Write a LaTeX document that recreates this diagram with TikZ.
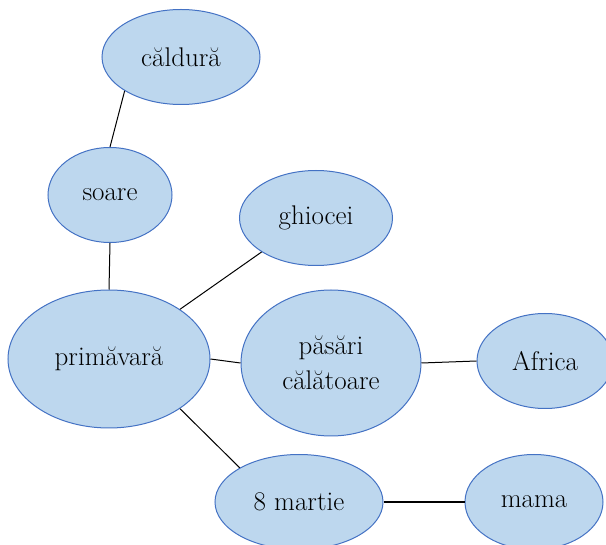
\documentclass[tikz,border=0pt]{standalone}
\usetikzlibrary{positioning, shapes}

\begin{document}
\begin{tikzpicture}[
        x=1pt, y=-1pt,
        every node/.style={
            ellipse, draw=bubbleedge, fill=bubblefill,
            line width=1pt, inner sep=0pt, align=center,
            font=\fontsize{27}{35}\selectfont % large serif labels
        },
        small/.style={minimum width=#1, minimum height=95pt},
        link/.style={draw=black, line width=1pt}
      ]
        \definecolor{bubblefill}{HTML}{BDD7EE}
        \definecolor{bubbleedge}{HTML}{4472C4}
        \clip (0,0) rectangle (606,545);

        \node[small=158pt] (caldura) at (181,57) {căldură};
        \node[small=124pt] (soare) at (110,195) {soare};
        \node[small=153pt] (ghiocei) at (316,218) {ghiocei};
        \node[minimum width=202pt, minimum height=138pt] (primavara) at (109,359) {primăvară};
        \node[minimum width=180pt, minimum height=146pt] (pasari) at (331,363) {păsări\\călătoare};
        \node[small=136pt] (africa) at (545,361) {Africa};
        \node[small=168pt] (martie) at (299,502) {8 martie};
        \node[small=138pt] (mama) at (534,502) {mama};

        \draw[link] (caldura.211) -- (soare.north);
        \draw[link] (soare.south) -- (primavara.north);
        \draw[link] (primavara.35) -- (ghiocei.212);
        \draw[link] (primavara.east) -- (pasari.west);
        \draw[link] (pasari.east) -- (africa.west);
        \draw[link] (primavara.-35) -- (martie.150);
        \draw[link, line width=2pt] (martie.east) -- (mama.west);
      \end{tikzpicture}
\end{document}
